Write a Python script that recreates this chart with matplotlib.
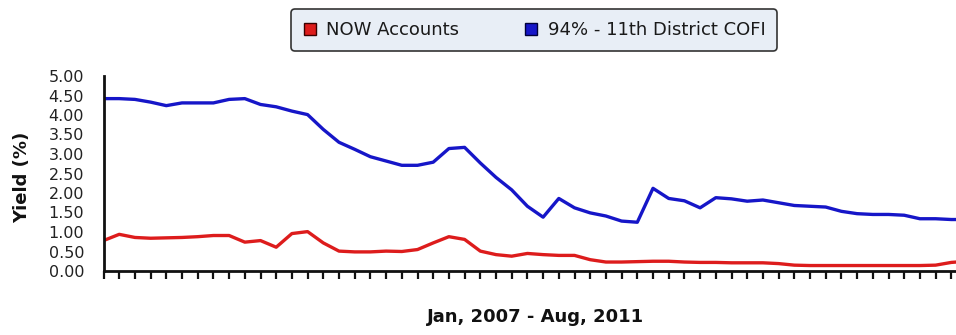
import matplotlib
matplotlib.use("Agg")
import matplotlib.pyplot as plt
from matplotlib.lines import Line2D
import numpy as np

# Monthly yields (%), Jan 2007 through Aug 2011
period_label = "Jan, 2007 - Aug, 2011"
series_names = ["NOW Accounts", "94% - 11th District COFI"]

now_accounts = [
    0.78, 0.94, 0.86, 0.84, 0.85, 0.86, 0.88, 0.91, 0.91, 0.74,
    0.78, 0.61, 0.96, 1.01, 0.72, 0.51, 0.49, 0.49, 0.51, 0.50,
    0.55, 0.72, 0.88, 0.81, 0.51, 0.42, 0.38, 0.45, 0.42, 0.40,
    0.40, 0.29, 0.23, 0.23, 0.24, 0.25, 0.25, 0.23, 0.22, 0.22,
    0.21, 0.21, 0.21, 0.19, 0.15, 0.14, 0.14, 0.14, 0.14, 0.14,
    0.14, 0.14, 0.14, 0.15, 0.22, 0.25,
]
cofi_94 = [
    4.42, 4.42, 4.40, 4.33, 4.24, 4.31, 4.31, 4.31, 4.40, 4.42,
    4.27, 4.21, 4.10, 4.01, 3.63, 3.30, 3.12, 2.93, 2.82, 2.71,
    2.71, 2.79, 3.14, 3.17, 2.77, 2.40, 2.08, 1.66, 1.38, 1.86,
    1.62, 1.49, 1.41, 1.28, 1.25, 2.12, 1.86, 1.80, 1.62, 1.88,
    1.85, 1.79, 1.82, 1.75, 1.68, 1.66, 1.64, 1.53, 1.47, 1.45,
    1.45, 1.43, 1.34, 1.34, 1.32, 1.32,
]
y_ticks = [0.0, 0.5, 1.0, 1.5, 2.0, 2.5, 3.0, 3.5, 4.0, 4.5, 5.0]

RED = "#dd1c1c"
BLUE = "#1616c8"
W, H = 956, 335

fig = plt.figure(figsize=(W / 100, H / 100), dpi=100)
fig.patch.set_facecolor("white")

# plot area runs slightly past the right edge of the canvas
ax = fig.add_axes([103.5 / W, 1 - 271 / H, 863.5 / W, 195 / H])
x = np.arange(len(now_accounts))
ax.plot(x, now_accounts, color=RED, lw=2.4, solid_joinstyle="round")
ax.plot(x, cofi_94, color=BLUE, lw=2.4, solid_joinstyle="round")

ax.set_xlim(0, len(x) - 1)
ax.set_ylim(0, 5)
ax.set_xticks(x)
ax.set_xticklabels([])
ax.set_yticks(y_ticks)
ax.set_yticklabels([f"{v:.2f}" for v in y_ticks])
ax.tick_params(axis="x", length=6, width=1.6, direction="out", color="#111111")
ax.tick_params(axis="y", length=0, pad=14, labelsize=11.5, labelcolor="#222222")

for side in ("top", "right"):
    ax.spines[side].set_visible(False)
for side in ("left", "bottom"):
    ax.spines[side].set_linewidth(2.0)
    ax.spines[side].set_color("#111111")

ax.set_xlabel(period_label, fontsize=13, fontweight="bold", color="#111111", labelpad=17)
ax.set_ylabel("Yield (%)", fontsize=13, fontweight="bold", color="#111111")
ax.yaxis.set_label_coords((21.7 - 103.5) / 863.5, (271 - 177.5) / 195)
ax.yaxis.label.set_va("center")

handles = [
    Line2D([], [], ls="none", marker="s", markersize=9, markerfacecolor=RED,
           markeredgecolor="#3a0000", markeredgewidth=1.0),
    Line2D([], [], ls="none", marker="s", markersize=9, markerfacecolor=BLUE,
           markeredgecolor="#00003a", markeredgewidth=1.0),
]
leg = fig.legend(handles, series_names, loc="center",
                 bbox_to_anchor=(534 / W, 1 - 30 / H), ncol=2,
                 frameon=True, fancybox=True, facecolor="#e8eef6",
                 edgecolor="#333333", framealpha=1, fontsize=13,
                 handlelength=0.8, handletextpad=0.5, columnspacing=3.6,
                 borderpad=0.65)
leg.get_frame().set_linewidth(1.2)
for t in leg.get_texts():
    t.set_color("#1a1a1a")

fig.savefig("out.png", dpi=100)
